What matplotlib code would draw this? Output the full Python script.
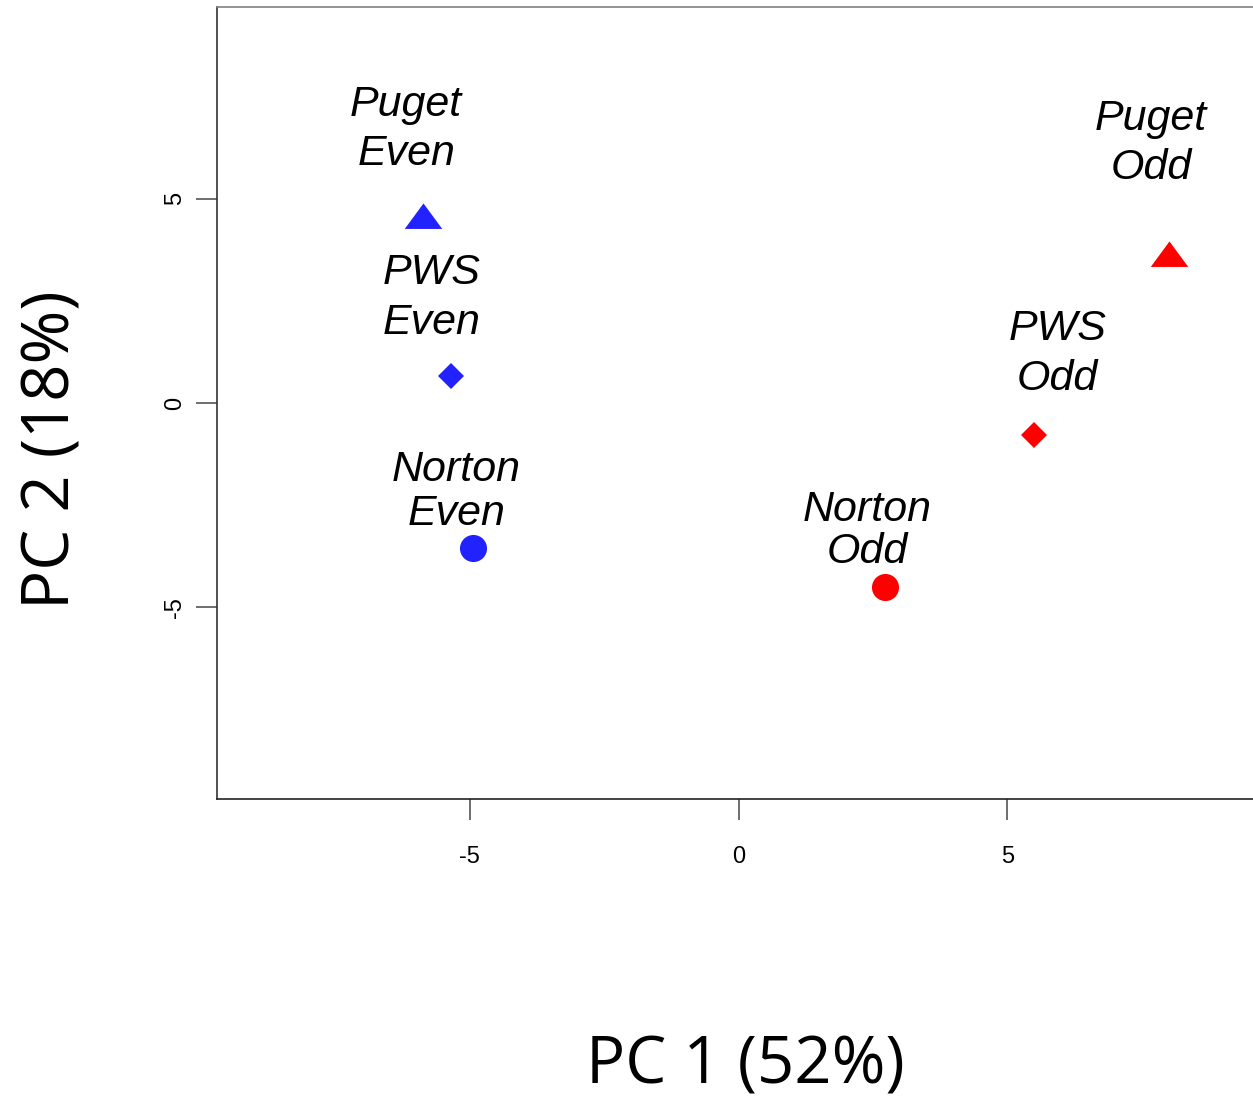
import matplotlib
matplotlib.use('Agg')
import matplotlib.pyplot as plt

# PCA scores
names   = ['Puget\nEven', 'PWS\nEven', 'Norton\nEven', 'Norton\nOdd', 'PWS\nOdd', 'Puget\nOdd']
pc1     = [-5.86, -5.35, -4.93, 2.72, 5.49, 8.00]
pc2     = [4.49, 0.66, -3.55, -4.51, -0.78, 3.55]
shapes  = ['tri', 'D', 'o', 'o', 'D', 'tri']
colors  = ['#2222ff', '#2222ff', '#2222ff', '#ff0000', '#ff0000', '#ff0000']
# label anchor (centre of the two-line text)
lab_x   = [-6.18, -5.71, -5.25, 2.40, 5.93, 7.67]
lab_y   = [6.70, 2.57, -2.18, -3.14, 1.20, 6.35]
lab_sp  = [1.3, 1.3, 1.15, 1.08, 1.3, 1.3]

W, H = 1253, 1104
fig = plt.figure(figsize=(W / 100, H / 100), dpi=100)
ax = fig.add_axes([217 / W, (H - 799) / H, (W - 217) / W + 0.01, 792 / H])
ax.set_xlim(-9.70, 9.80)
ax.set_ylim(-9.7, 9.7)

tri = [(-1, -0.45), (1, -0.45), (0, 0.91)]
sizes = {'tri': 27, 'D': 13.7, 'o': 19.5}
for x, y, s, c in zip(pc1, pc2, shapes, colors):
    ax.plot(x, y, marker=tri if s == 'tri' else s, ms=sizes[s], color=c,
            mew=0, ls='none')

for t, x, y, sp in zip(names, lab_x, lab_y, lab_sp):
    ax.text(x, y, t, ha='center', va='center', fontsize=31, style='italic',
            family='Liberation Sans', linespacing=sp)

ax.spines['right'].set_visible(False)
ax.spines['top'].set_color('#808080')
ax.spines['left'].set_color('#333333')
ax.spines['bottom'].set_color('#222222')
for s in ax.spines.values():
    s.set_linewidth(1.2)

ax.set_xticks([-5, 0, 5])
ax.set_yticks([-5, 0, 5])
ax.set_xticklabels(['-5', '0', '5'], family='Liberation Sans', fontsize=17)
ax.set_yticklabels(['-5', '0', '5'], family='Liberation Sans', fontsize=17,
                   rotation=90, va='center')
ax.tick_params(axis='both', direction='out', length=15, width=1.2, color='#555555')
ax.tick_params(axis='x', pad=19)
ax.tick_params(axis='y', pad=7)

fig.text(745 / W, 1 - 1066 / H, 'PC 1 (52%)', ha='center', va='center',
         fontsize=47, family='Open Sans')
fig.text(52 / W, 1 - 450 / H, 'PC 2 (18%)', ha='center', va='center',
         fontsize=47, family='Open Sans', rotation=90)

fig.savefig('out.png', dpi=100)
